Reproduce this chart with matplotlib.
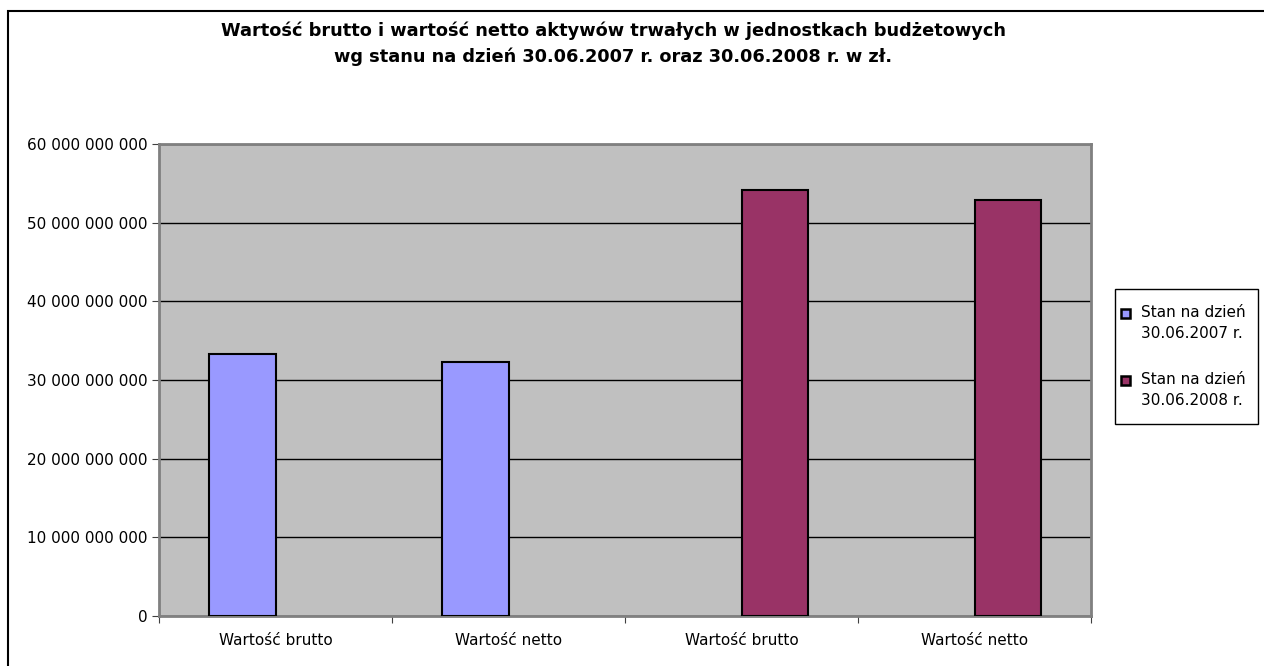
import numpy as np
import matplotlib
matplotlib.use("Agg")
import matplotlib.pyplot as plt
from matplotlib.patches import Rectangle
from matplotlib.ticker import FuncFormatter, FixedLocator

# data (zł)
categories = ["Wartość brutto", "Wartość netto", "Wartość brutto", "Wartość netto"]
stan_2007 = [33.33e9, 32.23e9, np.nan, np.nan]
stan_2008 = [np.nan, np.nan, 54.1e9, 52.9e9]
series_labels = ["Stan na dzień\n30.06.2007 r.", "Stan na dzień\n30.06.2008 r."]
series_colors = ["#9999FF", "#993366"]
title = ("Wartość brutto i wartość netto aktywów trwałych w jednostkach budżetowych\n"
         "wg stanu na dzień 30.06.2007 r. oraz 30.06.2008 r. w zł.")

plt.rcParams["font.family"] = ["DejaVu Sans"]

W, H = 1264, 666
fig = plt.figure(figsize=(W / 100, H / 100), dpi=100)
fig.patch.set_facecolor("white")
ax = fig.add_axes([159 / W, 1 - 616 / H, 932 / W, 472 / H])
ax.set_facecolor("#C0C0C0")

x = np.arange(len(categories))
bw = 1 / 3.5  # Excel gap width 150 %
ax.bar(x - bw / 2, stan_2007, bw, color=series_colors[0], edgecolor="black",
       linewidth=1.5, zorder=3)
ax.bar(x + bw / 2, stan_2008, bw, color=series_colors[1], edgecolor="black",
       linewidth=1.5, zorder=3)

ax.set_xlim(-0.5, len(categories) - 0.5)
ax.set_ylim(0, 60e9)
ax.set_yticks(np.arange(0, 60e9 + 1, 10e9))
ax.yaxis.set_major_formatter(FuncFormatter(lambda v, p: f"{int(v):,}".replace(",", " ")))
ax.grid(axis="y", color="black", linewidth=1, zorder=1)
ax.set_axisbelow(True)

# category boundaries as ticks, names in between
ax.xaxis.set_major_locator(FixedLocator(np.arange(-0.5, len(categories), 1.0)))
ax.xaxis.set_major_formatter(FuncFormatter(lambda v, p: ""))
ax.xaxis.set_minor_locator(FixedLocator(x))
ax.set_xticklabels(categories, minor=True)
ax.tick_params(axis="x", which="major", length=5, direction="out", color="#404040")
ax.tick_params(axis="x", which="minor", length=0, pad=12, labelsize=11)
ax.tick_params(axis="y", length=5, direction="out", pad=3, labelsize=11, color="#404040")

for s in ax.spines.values():
    s.set_color("#808080")
    s.set_linewidth(2)

fig.text(0.485, 1 - 44 / H, title, ha="center", va="center", fontsize=12.8,
         fontweight="bold", linespacing=1.55)

# legend box drawn by hand, Excel style
fig.patches.append(Rectangle((1115 / W, 1 - 424 / H), 143 / W, 135 / H,
                             transform=fig.transFigure, facecolor="white",
                             edgecolor="black", linewidth=1))
for i, (lab, col) in enumerate(zip(series_labels, series_colors)):
    y0 = 313 + i * 67
    fig.patches.append(Rectangle((1121 / W, 1 - (y0 + 5) / H), 9 / W, 9 / H,
                                 transform=fig.transFigure, facecolor=col,
                                 edgecolor="black", linewidth=1.8))
    fig.text(1141 / W, 1 - (y0 - 8) / H, lab, ha="left", va="top", fontsize=11,
             linespacing=1.5)

# outer chart border (runs off the right and bottom edges)
fig.patches.append(Rectangle((8 / W, -0.05), 1.1, 1 - 11 / H + 0.05,
                             transform=fig.transFigure, fill=False,
                             edgecolor="black", linewidth=1.5, clip_on=False))

fig.savefig("out.png", dpi=100)
